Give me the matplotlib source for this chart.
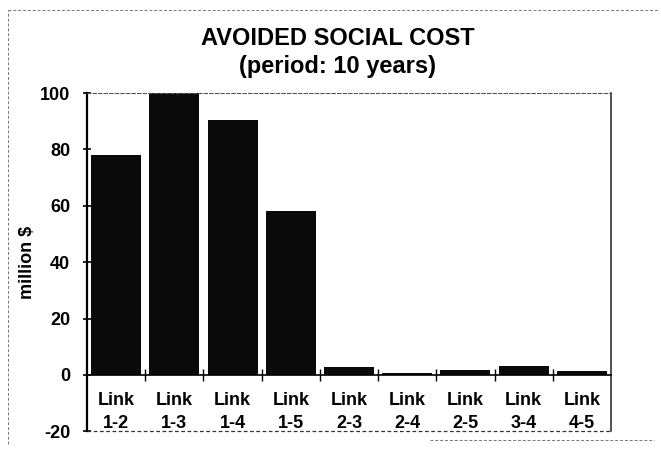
import matplotlib
matplotlib.use("Agg")
import matplotlib.pyplot as plt
from matplotlib.lines import Line2D

categories = ["Link\n1-2", "Link\n1-3", "Link\n1-4", "Link\n1-5", "Link\n2-3",
              "Link\n2-4", "Link\n2-5", "Link\n3-4", "Link\n4-5"]
values = [78, 100, 90.5, 58, 2.8, 0.8, 1.8, 3.2, 1.5]
yticks = [-20, 0, 20, 40, 60, 80, 100]

plt.rcParams['font.family'] = ['Liberation Sans', 'DejaVu Sans']

fig = plt.figure(figsize=(6.61, 4.53), dpi=100)
ax = fig.add_axes([0.1316, 0.0477, 0.7927, 0.747])

x = list(range(len(categories)))
ax.bar(x, values, width=0.86, color='#0a0a0a', zorder=2)

ax.set_ylim(-20, 100)
ax.set_xlim(-0.5, len(categories) - 0.5)
ax.set_yticks(yticks)
ax.set_yticklabels([str(t) for t in yticks], fontsize=13, fontweight='bold')
ax.tick_params(axis='y', direction='inout', length=6, width=1.2, pad=9)

ax.spines['bottom'].set_position(('data', 0))
ax.spines['bottom'].set_linewidth(1.2)
ax.spines['left'].set_linewidth(1.6)
ax.spines['top'].set_linestyle((0, (3, 2)))
ax.spines['top'].set_color('#555555')
ax.spines['top'].set_linewidth(0.8)
ax.spines['right'].set_color('#222222')
ax.spines['right'].set_linewidth(1.1)

# tick marks between categories
ax.set_xticks([i + 0.5 for i in x[:-1]], minor=True)
ax.tick_params(axis='x', which='minor', direction='inout', length=8, width=1.0)
ax.set_xticks(x)
ax.set_xticklabels(categories, fontsize=13, fontweight='bold', linespacing=1.5)
ax.tick_params(axis='x', which='major', length=0, pad=12)

ax.axhline(-20, color='#333333', lw=0.9, ls=(0, (3, 2)), clip_on=False)

ax.set_ylabel("million $", fontsize=13, fontweight='bold')
ax.yaxis.set_label_coords(-0.097, 0.5)

fig.text(0.511, 0.9007, "AVOIDED SOCIAL COST", ha='center', va='baseline',
         fontsize=17, fontweight='bold')
fig.text(0.511, 0.838, "(period: 10 years)", ha='center', va='baseline',
         fontsize=17, fontweight='bold')

# outer dashed border of the chart area (partially visible in the scan)
border_kw = dict(transform=fig.transFigure, color='#777777', lw=0.7, ls=(0, (3, 2)))
fig.add_artist(Line2D([0.012, 0.995], [0.978, 0.978], **border_kw))
fig.add_artist(Line2D([0.012, 0.012], [0.02, 0.978], **border_kw))
fig.add_artist(Line2D([0.65, 0.99], [0.028, 0.028], **border_kw))

fig.savefig("out.png", dpi=100)
